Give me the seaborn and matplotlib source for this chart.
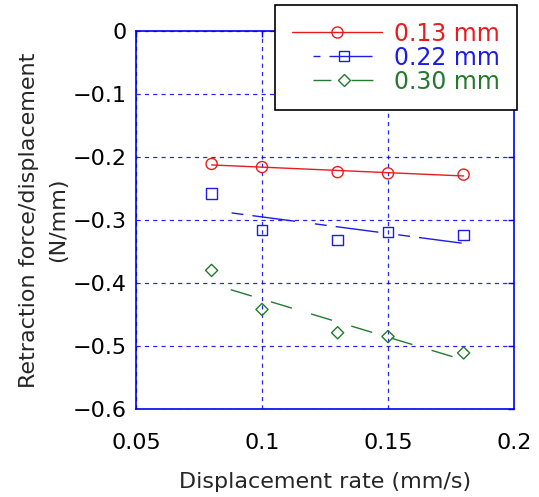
import numpy as np
import pandas as pd
import matplotlib
matplotlib.use("Agg")
import matplotlib.pyplot as plt
from matplotlib.lines import Line2D
from matplotlib.legend_handler import HandlerLine2D
import seaborn as sns

# Displacement rates (mm/s) and stiffness for three indentation depths
rate = [0.08, 0.10, 0.13, 0.15, 0.18]
k_013 = [-0.211, -0.216, -0.224, -0.226, -0.228]
k_022 = [-0.258, -0.316, -0.332, -0.319, -0.324]
k_030 = [-0.380, -0.442, -0.479, -0.485, -0.511]
labels = ["0.13 mm", "0.22 mm", "0.30 mm"]

x_ticks = [0.05, 0.10, 0.15, 0.20]
x_ticklabels = ["0.05", "0.1", "0.15", "0.2"]
y_ticks = [0, -0.1, -0.2, -0.3, -0.4, -0.5, -0.6]
y_ticklabels = ["0", "\u22120.1", "\u22120.2", "\u22120.3", "\u22120.4", "\u22120.5", "\u22120.6"]

sns.set_style("white")
plt.rcParams["font.family"] = ["DejaVu Sans"]
plt.rcParams["lines.scale_dashes"] = False

RED, BLUE, GREEN = "#e81c1c", "#1c1ce6", "#237a2e"
AXBLUE = "#0000ee"
FS = 16

styles = [
    dict(color=RED, marker="o", ms=8.0, ls="-", leg_ls="-", trim=(0.0, 0.0)),
    dict(color=BLUE, marker="s", ms=7.6, ls=(46, (8.6, 6.5, 31.0, 14.4)),
         leg_ls=(3.6, (8.6, 6.5, 31.0, 14.4)), trim=(0.24, 0.077)),
    dict(color=GREEN, marker="D", ms=6.2, ls=(15.8, (15.8, 14.4)),
         leg_ls=(2.9, (15.8, 14.4)), trim=(0.24, 0.077)),
]

df = pd.DataFrame({"rate": rate * 3,
                   "k": k_013 + k_022 + k_030,
                   "depth": sum([[l] * len(rate) for l in labels], [])})

fig = plt.figure(figsize=(5.39, 4.97), dpi=100)
ax = fig.add_axes([136 / 539, 1 - 409 / 497, 378 / 539, 378 / 497])

for lab, st in zip(labels, styles):
    sub = df[df["depth"] == lab]
    sns.regplot(data=sub, x="rate", y="k", ax=ax, ci=None, truncate=True,
                marker=st["marker"],
                scatter_kws=dict(s=st["ms"] ** 2, facecolors="none",
                                 edgecolors=st["color"], linewidths=1.0,
                                 alpha=1, zorder=3),
                line_kws=dict(color=st["color"], lw=1.0, ls=st["ls"], zorder=2))

ax.set_xlim(0.05, 0.2)
ax.set_ylim(-0.6, 0)
ax.set_xticks(x_ticks)
ax.set_xticklabels(x_ticklabels)
ax.set_yticks(y_ticks)
ax.set_yticklabels(y_ticklabels)
ax.tick_params(axis="both", which="both", direction="in", length=4, width=1.0,
               color=AXBLUE, labelsize=FS, labelcolor="black",
               top=True, right=True)
ax.tick_params(axis="x", pad=17)
ax.tick_params(axis="y", pad=7)
for sp in ax.spines.values():
    sp.set_color(AXBLUE)
    sp.set_linewidth(1.2)
    sp.set_visible(True)
ax.grid(True, color=AXBLUE, ls=(0, (3, 3)), lw=0.9, alpha=0.85)
ax.set_axisbelow(True)

ax.set_xlabel("Displacement rate (mm/s)", fontsize=FS, labelpad=14)
ax.set_ylabel("Retraction force/displacement\n(N/mm)", fontsize=FS,
              labelpad=3, linespacing=1.55)


class TrimmedLineHandler(HandlerLine2D):
    """Legend line whose segment can be shortened while the marker stays centred."""

    def __init__(self, trim_left=0.0, trim_right=0.0, **kw):
        super().__init__(**kw)
        self.trim_left = trim_left
        self.trim_right = trim_right

    def create_artists(self, legend, orig_handle, xdescent, ydescent, width,
                       height, fontsize, trans):
        artists = super().create_artists(legend, orig_handle, xdescent, ydescent,
                                         width, height, fontsize, trans)
        line = artists[0]
        x = np.asarray(line.get_xdata(), dtype=float)
        span = x[-1] - x[0]
        new_x = np.linspace(x[0] + span * self.trim_left,
                            x[-1] - span * self.trim_right, len(x))
        line.set_xdata(new_x)
        return artists


handles, hmap = [], {}
for st in styles:
    h = Line2D([], [], color=st["color"], lw=1.0, ls=st["leg_ls"],
               marker=st["marker"], ms=st["ms"], markerfacecolor="none",
               markeredgecolor=st["color"], markeredgewidth=1.0)
    handles.append(h)
    hmap[h] = TrimmedLineHandler(*st["trim"], numpoints=1)

leg = fig.legend(handles, labels, handler_map=hmap, loc="upper left",
                 bbox_to_anchor=(275 / 539, 1 - 5 / 497),
                 bbox_transform=fig.transFigure, borderaxespad=0,
                 frameon=True, fancybox=False, framealpha=1, edgecolor="black",
                 fontsize=17, handlelength=3.85, handletextpad=0.5,
                 labelspacing=0.0, borderpad=0.7,
                 labelcolor=[s["color"] for s in styles])
leg.get_frame().set_linewidth(1.2)

fig.savefig("out.png", dpi=100, facecolor="white")
